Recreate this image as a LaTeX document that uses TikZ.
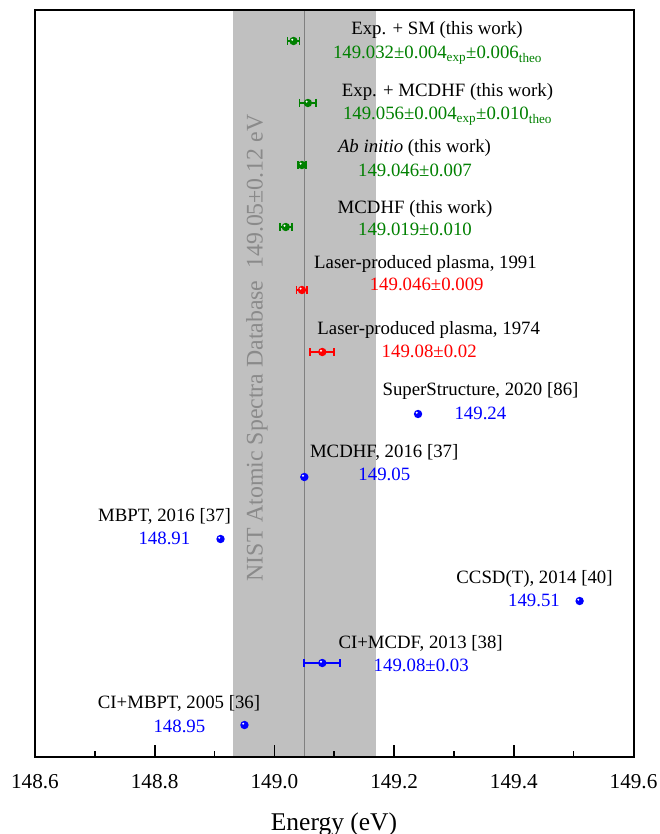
\documentclass[tikz,border=0pt]{standalone}
\usepackage{fontspec}
\setmainfont{Liberation Serif}
\usetikzlibrary{calc}
\definecolor{thisgreen}{RGB}{0,128,0}
\definecolor{nistband}{RGB}{192,192,192}
\definecolor{nistline}{RGB}{128,128,128}
\definecolor{nisttext}{RGB}{138,138,138}
\def\xE#1{(35+(#1-148.6)*598.5)}
\def\dotpt[#1](#2:#3){\fill[#1] ({\xE{#2}},#3) circle (4.2);
	\fill[white] ({\xE{#2}-1.3},#3-1.3) circle (1.1);}
\def\errpt[#1](#2:#3:#4){\draw[#1,line width=1.8pt] ({\xE{#2-#4}},#3) -- ({\xE{#2+#4}},#3);
	\draw[#1,line width=1.8pt] ({\xE{#2-#4}},#3-4) -- ({\xE{#2-#4}},#3+4);
	\draw[#1,line width=1.8pt] ({\xE{#2+#4}},#3-4) -- ({\xE{#2+#4}},#3+4);
	\dotpt[#1](#2:#3)}
\tikzset{
	reflbl/.style={anchor=base, inner sep=0pt, font=\fontsize{18.8}{22}\selectfont},
	numlbl/.style={anchor=base, inner sep=0pt, font=\fontsize{18.8}{22}\selectfont},
	ticklbl/.style={anchor=base, inner sep=0pt, font=\fontsize{21.2}{24}\selectfont},
}

\begin{document}
\begin{tikzpicture}[x=1pt, y=-1pt]
		%%%%% START %%%%%
		\useasboundingbox (0, 0) rectangle (660, 834);
		
		\fill[nistband] ({\xE{148.93}}, 10) rectangle ({\xE{149.17}}, 757);
		\draw[nistline, line width=1.6pt] ({\xE{149.05}}, 10) -- ({\xE{149.05}}, 757);
		\node[rotate=90, text=nisttext, font=\fontsize{23.8}{26}\selectfont] (nist) at (257, 348) {NIST Atomic Spectra Database~ 149.05±0.12 eV};
		
		\draw[line width=2pt] (35, 10) rectangle (633.5, 757);
		
		\draw[line width=1.6pt] (154.7, 757) -- (154.7, 745);
		\draw[line width=1.6pt] (274.4, 757) -- (274.4, 745);
		\draw[line width=1.6pt] (394.1, 757) -- (394.1, 745);
		\draw[line width=1.6pt] (513.8, 757) -- (513.8, 745);
		\draw[line width=1.6pt] (94.85, 757) -- (94.85, 751);
		\draw[line width=1.6pt] (214.55, 757) -- (214.55, 751);
		\draw[line width=1.6pt] (334.25, 757) -- (334.25, 751);
		\draw[line width=1.6pt] (453.95, 757) -- (453.95, 751);
		\draw[line width=1.6pt] (573.65, 757) -- (573.65, 751);
		
		\node[ticklbl] (t1) at (35, 788) {148.6};
		\node[ticklbl] (t2) at (154.7, 788) {148.8};
		\node[ticklbl] (t3) at (274.4, 788) {149.0};
		\node[ticklbl] (t4) at (394.1, 788) {149.2};
		\node[ticklbl] (t5) at (513.8, 788) {149.4};
		\node[ticklbl] (t6) at (633.5, 788) {149.6};
		\node[anchor=base, inner sep=0pt, font=\fontsize{25.5}{28}\selectfont] (xtitle) at (334, 830) {Energy (eV)};
		
		% this work
		\errpt[thisgreen](149.032:41:0.010)
		\node[reflbl] (sm) at (437, 35) {Exp. + SM (this work)};
		\node[numlbl, text=thisgreen] (smv) at (437.5, 59) {149.032±0.004\textsubscript{exp}±0.006\textsubscript{theo}};
		
		\errpt[thisgreen](149.056:103:0.014)
		\node[reflbl] (mc) at (447.5, 96.7) {Exp. + MCDHF (this work)};
		\node[numlbl, text=thisgreen] (mcv) at (447.5, 120) {149.056±0.004\textsubscript{exp}±0.010\textsubscript{theo}};
		
		\errpt[thisgreen](149.046:165:0.007)
		\node[reflbl] (ab) at (414.5, 152.3) {\textit{Ab initio} (this work)};
		\node[numlbl, text=thisgreen] (abv) at (415, 176.7) {149.046±0.007};
		
		\errpt[thisgreen](149.019:227:0.010)
		\node[reflbl] (md) at (415, 213.3) {MCDHF (this work)};
		\node[numlbl, text=thisgreen] (mdv) at (415, 235) {149.019±0.010};
		
		% experiments
		\errpt[red](149.046:290:0.009)
		\node[reflbl] (lp91) at (425.5, 268.3) {Laser-produced plasma, 1991};
		\node[numlbl, text=red] (lp91v) at (426.7, 290.7) {149.046±0.009};
		
		\errpt[red](149.08:352:0.02)
		\node[reflbl] (lp74) at (428.7, 334.3) {Laser-produced plasma, 1974};
		\node[numlbl, text=red] (lp74v) at (429.2, 357.3) {149.08±0.02};
		
		% other theory
		\dotpt[blue](149.24:414)
		\node[reflbl] (ss) at (480.5, 395.7) {SuperStructure, 2020 [86]};
		\node[numlbl, text=blue] (ssv) at (480.4, 419) {149.24};
		
		\dotpt[blue](149.05:477)
		\node[reflbl] (m16) at (384.2, 457.3) {MCDHF, 2016 [37]};
		\node[numlbl, text=blue] (m16v) at (384.3, 480) {149.05};
		
		\dotpt[blue](148.91:539)
		\node[reflbl] (mb16) at (164.5, 521) {MBPT, 2016 [37]};
		\node[numlbl, text=blue] (mb16v) at (164.4, 544.3) {148.91};
		
		\dotpt[blue](149.51:601)
		\node[reflbl] (cc) at (534.5, 583.3) {CCSD(T), 2014 [40]};
		\node[numlbl, text=blue] (ccv) at (534, 606.7) {149.51};
		
		\errpt[blue](149.08:663:0.03)
		\node[reflbl] (ci13) at (420.6, 648.3) {CI+MCDF, 2013 [38]};
		\node[numlbl, text=blue] (ci13v) at (421.2, 671) {149.08±0.03};
		
		\dotpt[blue](148.95:725)
		\node[reflbl] (ci05) at (179, 708.3) {CI+MBPT, 2005 [36]};
		\node[numlbl, text=blue] (ci05v) at (179.4, 732.7) {148.95};
		
		%%%%% END %%%%%
	\end{tikzpicture}
\end{document}
